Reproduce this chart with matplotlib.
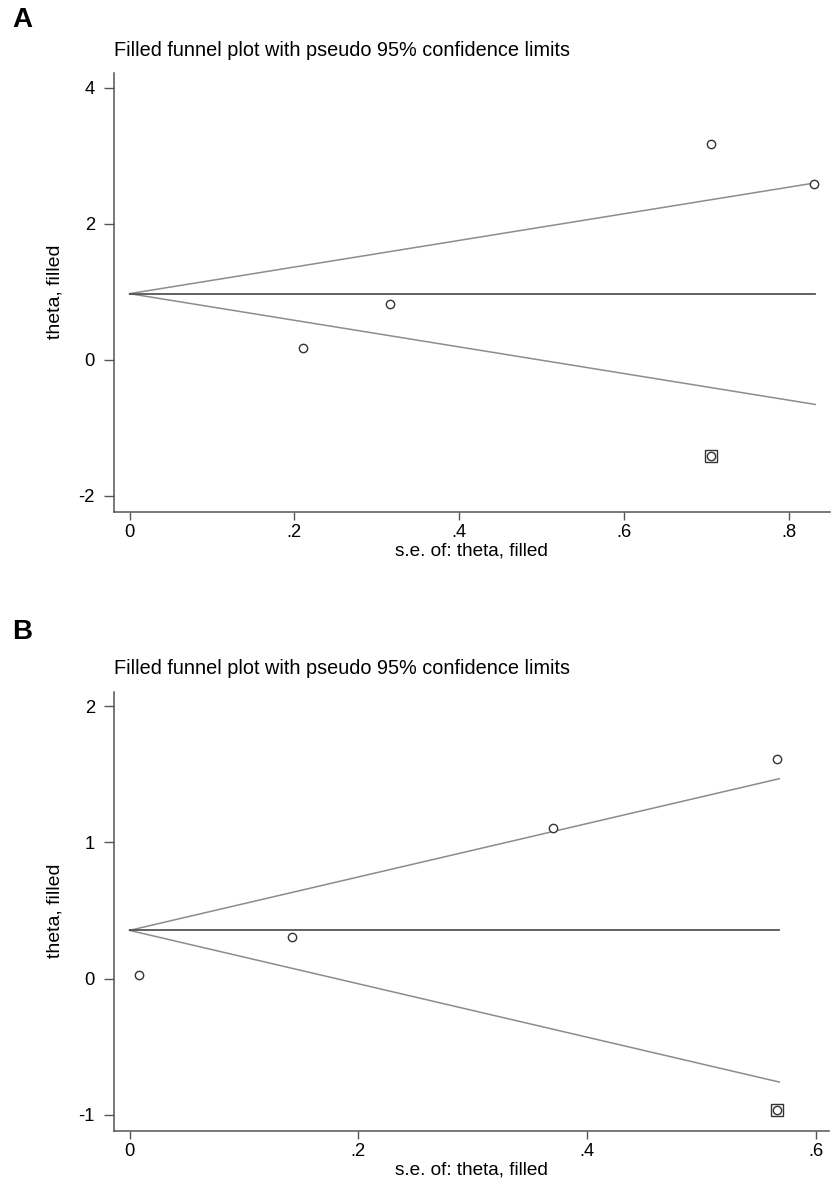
import matplotlib
matplotlib.use("Agg")
import matplotlib.pyplot as plt
import numpy as np

plt.rcParams['font.family'] = ['Liberation Sans', 'DejaVu Sans']

# ---------------- data ----------------
# Panel A
a_se = [0.211, 0.3165, 0.7055, 0.830]
a_theta = [0.172, 0.819, 3.176, 2.588]
a_fill_se = [0.7055]
a_fill_theta = [-1.422]
a_mean = 0.972
a_se_max = 0.832
a_xticks = [0, 0.2, 0.4, 0.6, 0.8]
a_xticklabels = ["0", ".2", ".4", ".6", ".8"]
a_yticks = [-2, 0, 2, 4]
a_xlim = (-0.0195, 0.850)
a_ylim = (-2.235, 4.225)

# Panel B
b_se = [0.008, 0.1417, 0.3703, 0.566]
b_theta = [0.027, 0.309, 1.103, 1.610]
b_fill_se = [0.566]
b_fill_theta = [-0.963]
b_mean = 0.354
b_se_max = 0.568
b_xticks = [0, 0.2, 0.4, 0.6]
b_xticklabels = ["0", ".2", ".4", ".6"]
b_yticks = [-1, 0, 1, 2]
b_xlim = (-0.014, 0.6115)
b_ylim = (-1.115, 2.106)

z95 = 1.96
title_txt = "Filled funnel plot with pseudo 95% confidence limits"
xlab = "s.e. of: theta, filled"
ylab = "theta, filled"

W, H = 838, 1186
fig = plt.figure(figsize=(W / 100, H / 100), dpi=100)

def px_axes(left, top, right, bottom):
    return fig.add_axes([left / W, 1 - bottom / H, (right - left) / W, (bottom - top) / H])

axA = px_axes(113.5, 72.7, 830, 511.5)
axB = px_axes(113.5, 691.7, 829, 1130.5)

spine_col = "#555555"
fs_tick = 13.2
fs_xlab = 13.7
fs_ylab = 14
fs_title = 14.3

def draw(ax, se, th, fse, fth, mean, semax, xt, xtl, yt, xlim, ylim):
    xs = np.array([0.0, semax])
    ax.plot(xs, mean + z95 * xs, color="#8c8c8c", lw=1.1, zorder=2)
    ax.plot(xs, mean - z95 * xs, color="#8c8c8c", lw=1.1, zorder=2)
    ax.plot(xs, [mean, mean], color="#555555", lw=1.3, zorder=2)
    ax.plot(se, th, linestyle="none", marker="o", ms=6, mfc="white",
            mec="#333333", mew=1.0, zorder=3)
    ax.plot(fse, fth, linestyle="none", marker="s", ms=8, mfc="white",
            mec="#333333", mew=1.0, zorder=3)
    ax.plot(fse, fth, linestyle="none", marker="o", ms=6, mfc="white",
            mec="#333333", mew=1.0, zorder=4)
    ax.set_xlim(*xlim)
    ax.set_ylim(*ylim)
    ax.set_xticks(xt)
    ax.set_xticklabels(xtl)
    ax.set_yticks(yt)
    ax.set_yticklabels([str(v) for v in yt])
    for s in ["top", "right"]:
        ax.spines[s].set_visible(False)
    for s in ["left", "bottom"]:
        ax.spines[s].set_color(spine_col)
        ax.spines[s].set_linewidth(1.1)
    ax.tick_params(axis="x", direction="out", length=6, width=1.0,
                   color=spine_col, labelsize=fs_tick, pad=3)
    ax.tick_params(axis="y", direction="out", length=7, width=1.0,
                   color=spine_col, labelsize=fs_tick, pad=6.5)
    ax.set_xlabel(xlab, fontsize=fs_xlab, labelpad=1)
    ax.set_ylabel(ylab, fontsize=fs_ylab, labelpad=11)

draw(axA, a_se, a_theta, a_fill_se, a_fill_theta, a_mean, a_se_max,
     a_xticks, a_xticklabels, a_yticks, a_xlim, a_ylim)
draw(axB, b_se, b_theta, b_fill_se, b_fill_theta, b_mean, b_se_max,
     b_xticks, b_xticklabels, b_yticks, b_xlim, b_ylim)

fig.text(114 / W, 1 - 51 / H, title_txt, fontsize=fs_title, ha="left", va="center")
fig.text(114 / W, 1 - 669 / H, title_txt, fontsize=fs_title, ha="left", va="center")
fig.text(22 / W, 1 - 20 / H, "A", fontsize=20, fontweight="bold", ha="center", va="center")
fig.text(22 / W, 1 - 632 / H, "B", fontsize=20, fontweight="bold", ha="center", va="center")

fig.savefig("out.png", dpi=100, facecolor="white")
